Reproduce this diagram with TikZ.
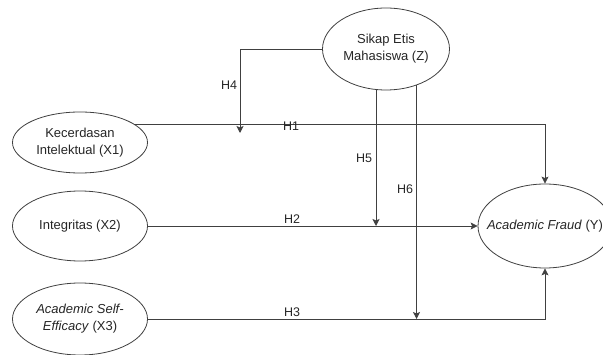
\documentclass[tikz,border=0pt]{standalone}
\usepackage{fontspec}
\setmainfont{Liberation Sans}
\usetikzlibrary{arrows.meta,shapes.geometric}

\begin{document}
\begin{tikzpicture}[x=1pt,y=-1pt,>={Stealth[length=7pt,width=7pt,inset=1.5pt]},
  conn/.style={draw=black!75,line width=0.8pt,->},
  varnode/.style={ellipse,draw=black!75,line width=0.8pt,inner sep=0pt,fill=white},
  vartext/.style={text=black!85,align=center,font=\fontsize{13}{17}\selectfont},
  hyplabel/.style={text=black!85,font=\fontsize{12.5}{15}\selectfont,inner sep=1pt}]
\useasboundingbox (0,0) rectangle (603,355);
% latent variables
\node[varnode,minimum width=135pt,minimum height=61pt,label={[vartext]center:Kecerdasan\\Intelektual (X1)}](kx1) at (80,142.5){};
\node[varnode,minimum width=135pt,minimum height=70pt,label={[vartext]center:Integritas (X2)}](ix2) at (80,226){};
\node[varnode,minimum width=135pt,minimum height=72pt,label={[vartext]center:\textit{Academic Self-}\\\textit{Efficacy} (X3)}](ase3) at (80,319){};
\node[varnode,minimum width=127pt,minimum height=82pt,label={[vartext]center:Sikap Etis\\Mahasiswa (Z)}](sez) at (386,49){};
\node[varnode,minimum width=134pt,minimum height=84pt,label={[vartext]center:\textit{Academic Fraud} (Y)}](afy) at (545,226){};
% moderation end points
\coordinate (h4end) at (240,133);
\coordinate (h5end) at (376,226);
\coordinate (h6end) at (416,319);
% direct paths
\draw[conn](kx1.18)-|(afy.north);
\draw[conn](ix2.east)--(afy.west);
\draw[conn](ase3.east)-|(afy.south);
% moderating paths
\draw[conn](sez.west)-|(h4end);
\draw[conn](h5end|-sez.south)--(h5end);
\draw[conn](sez.-50)--(sez.-50|-h6end);
% labels
\node[hyplabel](lh1) at (291,126){H1};
\node[hyplabel](lh2) at (292,219){H2};
\node[hyplabel](lh3) at (292,312){H3};
\node[hyplabel](lh4) at (229,85){H4};
\node[hyplabel](lh5) at (364,158){H5};
\node[hyplabel](lh6) at (405,189){H6};
\end{tikzpicture}
\end{document}
